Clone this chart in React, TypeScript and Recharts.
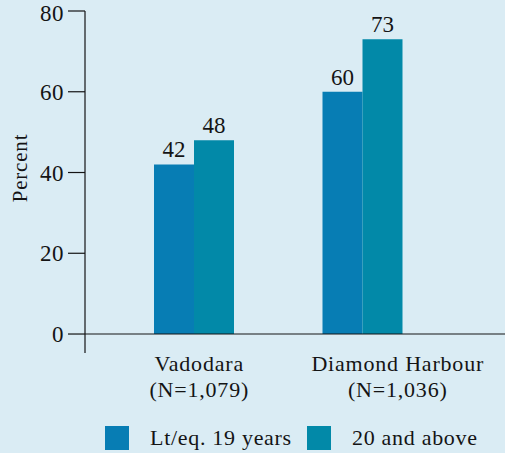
import React from 'react';
import { BarChart, Bar, XAxis, YAxis, ReferenceLine, LabelList } from 'recharts';

const categories = ['Vadodara', 'Diamond Harbour'];
const sampleSizes = ['(N=1,079)', '(N=1,036)'];
const youngShare = [42, 60];
const olderShare = [48, 73];
const seriesNames = ['Lt/eq. 19 years', '20 and above'];
const yTicks = [0, 20, 40, 60, 80];

const BG = '#daecf4';
const INK = '#141414';
const COLORS = ['#077db4', '#0289a8'];
const FONT = '"Liberation Serif", "Times New Roman", serif';

// label nudges seen in the original layout
const tickShift = [5, 35];

const data = categories.map((name, i) => ({
    name,
    n: sampleSizes[i],
    young: youngShare[i],
    older: olderShare[i],
}));

function CategoryTick(props: any) {
    const { x, y, payload, index } = props;
    const row = data[index] || data.find(d => d.name === payload.value);
    const cx = x + (tickShift[index] || 0);
    return (
        <text x={cx} y={y} textAnchor="middle" fill={INK} fontFamily={FONT} fontSize={22} letterSpacing={0.8}>
            <tspan x={cx} dy={10}>{payload.value}</tspan>
            <tspan x={cx} dy={26}>{row ? row.n : ''}</tspan>
        </text>
    );
}

export default function App() {
    return (
        <div style={{ position: 'absolute', left: 0, top: 0, width: 505, height: 453, background: BG, overflow: 'hidden' }}>
            <BarChart
                width={505}
                height={453}
                data={data}
                margin={{ top: 11, right: 0, left: 0, bottom: 40 }}
                barGap={0}
                barSize={40}
            >
                <XAxis
                    dataKey="name"
                    height={60}
                    axisLine={false}
                    tickLine={false}
                    padding={{ left: 25, right: 58 }}
                    tick={<CategoryTick />}
                    interval={0}
                />
                <YAxis
                    width={85}
                    domain={[-4.7, 80]}
                    ticks={yTicks}
                    allowDataOverflow
                    tickSize={17}
                    tickMargin={4}
                    stroke={INK}
                    strokeWidth={1.2}
                    tick={{ fill: INK, fontFamily: FONT, fontSize: 23, letterSpacing: 0.5 }}
                    label={({ viewBox }: any) => (
                        <text
                            x={27}
                            y={viewBox.y + viewBox.height / 2 - 14}
                            transform={`rotate(-90 27 ${viewBox.y + viewBox.height / 2 - 14})`}
                            textAnchor="middle"
                            fill={INK}
                            fontFamily={FONT}
                            fontSize={21}
                            letterSpacing={0.8}
                        >
                            Percent
                        </text>
                    )}
                />
                <ReferenceLine y={0} stroke={INK} strokeWidth={1.2} />
                <Bar dataKey="young" name={seriesNames[0]} fill={COLORS[0]} isAnimationActive={false}>
                    <LabelList dataKey="young" position="top" offset={7} fill={INK} fontFamily={FONT} fontSize={23} />
                </Bar>
                <Bar dataKey="older" name={seriesNames[1]} fill={COLORS[1]} isAnimationActive={false}>
                    <LabelList dataKey="older" position="top" offset={7} fill={INK} fontFamily={FONT} fontSize={23} />
                </Bar>
            </BarChart>
            {seriesNames.map((s, i) => (
                <div
                    key={s}
                    style={{
                        position: 'absolute',
                        left: i === 0 ? 105 : 307,
                        top: 425,
                        display: 'flex',
                        alignItems: 'center',
                        fontFamily: FONT,
                        fontSize: 22,
                        letterSpacing: 0.7,
                        color: INK,
                        whiteSpace: 'nowrap',
                    }}
                >
                    <span style={{ display: 'inline-block', width: 24, height: 24, background: COLORS[i], marginRight: 21 }} />
                    <span>{s}</span>
                </div>
            ))}
        </div>
    );
}
